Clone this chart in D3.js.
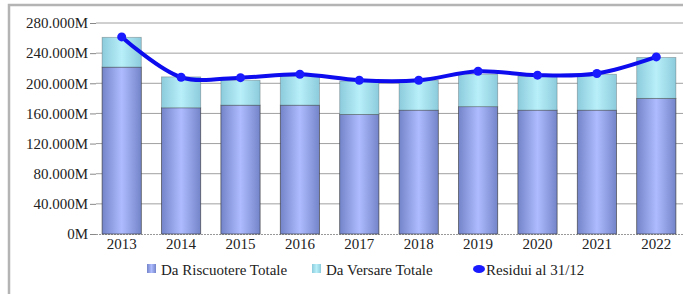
<!DOCTYPE html>
<html>
<head>
<meta charset="utf-8">
<script src="https://cdn.jsdelivr.net/npm/d3@7"></script>
<style>
  body { margin: 0; background: #fff; }
  svg text { font-family: "Liberation Serif", "Times New Roman", Times, "DejaVu Serif", serif !important; }
</style>
</head>
<body>
<svg id="chart"></svg>
<script>
// Data (values in millions)
const years = ["2013", "2014", "2015", "2016", "2017", "2018", "2019", "2020", "2021", "2022"];
const daRiscuotere = [221.5, 167.5, 171, 171, 158.7, 164.4, 169, 164.4, 164.4, 180];
const daVersare = [39.5, 41, 33, 38.5, 44.3, 39.6, 43, 45.1, 47.6, 54.3];
const residui = [261.5, 208, 207.5, 212, 204, 204, 216, 210.8, 213, 235];
const yTicks = [0, 40, 80, 120, 160, 200, 240, 280];
const legendLabels = ["Da Riscuotere Totale", "Da Versare Totale", "Residui al 31/12"];

const width = 683, height = 294;
const margin = {top: 23, bottom: 60, left: 92, right: -3};

const svg = d3.select("#chart")
    .attr("width", width)
    .attr("height", height);

// Gradients for the bars
const defs = svg.append("defs");
function gradient(id, edge, mid) {
    const g = defs.append("linearGradient").attr("id", id)
        .attr("x1", "0%").attr("x2", "100%").attr("y1", "0%").attr("y2", "0%");
    g.append("stop").attr("offset", "0%").attr("stop-color", edge);
    g.append("stop").attr("offset", "50%").attr("stop-color", mid);
    g.append("stop").attr("offset", "100%").attr("stop-color", edge);
}
gradient("gLow", "#7484c8", "#aebcff");
gradient("gHigh", "#8ccbdc", "#b8eff9");

// Outer frame
svg.append("path")
    .attr("d", `M9,${height} V5 H${width}`)
    .attr("fill", "none")
    .attr("stroke", "#b4b4b4")
    .attr("stroke-width", 2.5);

// Scales
const x = d3.scaleBand()
    .domain(years)
    .range([margin.left, width - margin.right])
    .paddingInner(0.34)
    .paddingOuter(0.17);

const y = d3.scaleLinear()
    .domain([0, 280])
    .range([height - margin.bottom, margin.top]);

// Gridlines
svg.append("g")
    .selectAll("line")
    .data(yTicks.filter(d => d > 0))
    .enter().append("line")
    .attr("x1", margin.left + 4)
    .attr("x2", width)
    .attr("y1", d => y(d))
    .attr("y2", d => y(d))
    .attr("stroke", "#a0a0a0")
    .attr("stroke-width", 1);

// Y axis
const yAxis = svg.append("g")
    .attr("transform", `translate(${margin.left + 4}, 0)`)
    .call(d3.axisLeft(y).tickValues(yTicks).tickSize(6).tickPadding(2)
        .tickFormat(d => d === 0 ? "0M" : d3.format(".3f")(d) + "M"));
yAxis.select(".domain").remove();
yAxis.selectAll("line").attr("stroke", "#888");
yAxis.selectAll("text")
    .attr("font-size", 15)
    .attr("fill", "#222");

// X axis
const xAxis = svg.append("g")
    .attr("transform", `translate(0, ${y(0)})`)
    .call(d3.axisBottom(x).tickSize(0).tickPadding(4));
xAxis.select(".domain")
    .attr("d", `M${margin.left + 4},0.5H${width}`)
    .attr("stroke", "#999")
    .attr("stroke-dasharray", "2,1");
xAxis.selectAll("text")
    .attr("font-size", 15)
    .attr("fill", "#222");

// Stacked bars
const stackData = years.map((yr, i) => ({year: yr, low: daRiscuotere[i], high: daVersare[i]}));

svg.append("g")
    .selectAll("rect")
    .data(stackData)
    .enter().append("rect")
    .attr("x", d => x(d.year))
    .attr("y", d => y(d.low))
    .attr("width", x.bandwidth())
    .attr("height", d => y(0) - y(d.low))
    .attr("fill", "url(#gLow)")
    .attr("stroke", "#333")
    .attr("stroke-opacity", 0.75)
    .attr("stroke-width", 0.8);

svg.append("g")
    .selectAll("rect")
    .data(stackData)
    .enter().append("rect")
    .attr("x", d => x(d.year))
    .attr("y", d => y(d.low + d.high))
    .attr("width", x.bandwidth())
    .attr("height", d => y(d.low) - y(d.low + d.high))
    .attr("fill", "url(#gHigh)")
    .attr("stroke", "#333")
    .attr("stroke-opacity", 0.35)
    .attr("stroke-width", 0.8);

// Residui line
const lineData = years.map((yr, i) => ({year: yr, v: residui[i]}));
const line = d3.line()
    .x(d => x(d.year) + x.bandwidth() / 2)
    .y(d => y(d.v))
    .curve(d3.curveCatmullRom.alpha(0.5));

svg.append("path")
    .datum(lineData)
    .attr("d", line)
    .attr("fill", "none")
    .attr("stroke", "#0c0cee")
    .attr("stroke-width", 4);

svg.append("g")
    .selectAll("circle")
    .data(lineData)
    .enter().append("circle")
    .attr("cx", d => x(d.year) + x.bandwidth() / 2)
    .attr("cy", d => y(d.v))
    .attr("r", 4.5)
    .attr("fill", "#1a1aff");

// Legend
const legendX = [147, 312, 473];
const legend = svg.selectAll(".legend")
    .data(legendLabels)
    .enter().append("g")
    .attr("class", "legend")
    .attr("transform", (d, i) => `translate(${legendX[i]}, 263)`);

legend.filter((d, i) => i < 2).append("rect")
    .attr("x", 0)
    .attr("y", 1)
    .attr("width", 9)
    .attr("height", 9)
    .attr("fill", (d, i) => i === 0 ? "url(#gLow)" : "url(#gHigh)");

legend.filter((d, i) => i === 2).append("ellipse")
    .attr("cx", 6)
    .attr("cy", 6)
    .attr("rx", 6)
    .attr("ry", 4)
    .attr("fill", "#1a1aff");

legend.append("text")
    .attr("x", (d, i) => i === 2 ? 13 : 14)
    .attr("y", 12)
    .attr("font-size", 15)
    .attr("fill", "#222")
    .text(d => d);
</script>
</body>
</html>
